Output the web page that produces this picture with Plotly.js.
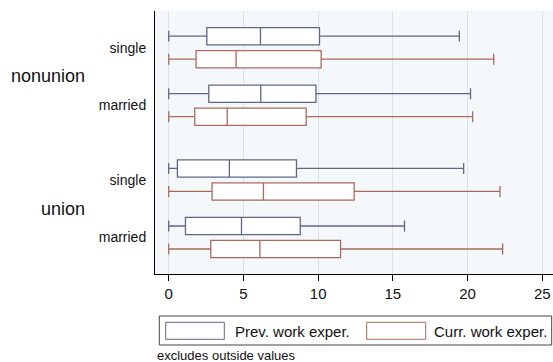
<!DOCTYPE html>
<html>
<head>
<meta charset="utf-8">
<script src="https://cdn.plot.ly/plotly-3.0.1.min.js"></script>
<style>html,body{margin:0;padding:0;background:#fff;}#chart{width:553px;height:362px;}</style>
</head>
<body>
<div id="chart"></div>
<script>
// ---- data (order: nonunion-single, nonunion-married, union-single, union-married)
const groups = ['nonunion', 'union'];
const subgroups = ['single', 'married'];
const seriesNames = ['Prev. work exper.', 'Curr. work exper.'];
const prevLower  = [0, 0, 0, 0];
const prevQ1     = [2.55, 2.68, 0.58, 1.12];
const prevMedian = [6.14, 6.16, 4.06, 4.87];
const prevQ3     = [10.09, 9.85, 8.55, 8.80];
const prevUpper  = [19.45, 20.20, 19.74, 15.78];
const currLower  = [0, 0, 0, 0];
const currQ1     = [1.83, 1.74, 2.90, 2.81];
const currMedian = [4.51, 3.91, 6.34, 6.10];
const currQ3     = [10.20, 9.20, 12.41, 11.50];
const currUpper  = [21.75, 20.34, 22.17, 22.35];
const xTickVals  = [0, 5, 10, 15, 20, 25];
const noteText   = 'excludes outside values';

// ---- layout helpers
const FONT = 'Liberation Sans, Arial, Helvetica, sans-serif';
const colors = ['#5f6784', '#a86a5d'];
const catPos = [0, 1, 2.3, 3.3];
const off = 0.2;
const catLabels = [];
groups.forEach(() => subgroups.forEach(s => catLabels.push(s)));

const W = 553, H = 362, L = 155, T = 11, B = 274;
const PW = W - L, PH = B - T;
const px = v => (v - L) / PW;
const py = v => (B - v) / PH;

function boxTrace(name, color, lo, q1, med, q3, hi, sign) {
  return {
    type: 'box', orientation: 'h', name: name,
    y: catPos.map(p => p + sign * off),
    lowerfence: lo, q1: q1, median: med, q3: q3, upperfence: hi,
    width: 0.3, whiskerwidth: 0.63, boxpoints: false,
    fillcolor: '#ffffff',
    line: {color: color, width: 1.3},
    hoverinfo: 'skip', showlegend: false
  };
}

const data = [
  boxTrace(seriesNames[0], colors[0], prevLower, prevQ1, prevMedian, prevQ3, prevUpper, -1),
  boxTrace(seriesNames[1], colors[1], currLower, currQ1, currMedian, currQ3, currUpper, +1)
];

const annotations = [];
groups.forEach((g, i) => {
  annotations.push({
    text: g, xref: 'paper', yref: 'y', x: px(87), y: (catPos[2*i] + catPos[2*i+1]) / 2,
    xanchor: 'right', yanchor: 'middle', showarrow: false,
    font: {family: FONT, size: 18, color: '#111'}
  });
});
annotations.push({text: seriesNames[0], xref: 'paper', yref: 'paper', x: px(233), y: py(331),
  xanchor: 'left', yanchor: 'middle', showarrow: false, font: {family: FONT, size: 15, color: '#111'}});
annotations.push({text: seriesNames[1], xref: 'paper', yref: 'paper', x: px(432), y: py(331),
  xanchor: 'left', yanchor: 'middle', showarrow: false, font: {family: FONT, size: 15, color: '#111'}});
annotations.push({text: noteText, xref: 'paper', yref: 'paper', x: px(155), y: py(355),
  xanchor: 'left', yanchor: 'middle', showarrow: false, font: {family: FONT, size: 13, color: '#111'}});

const shapes = [
  {type: 'rect', xref: 'paper', yref: 'paper', x0: px(159.3), x1: px(551.7), y0: py(316), y1: py(345),
   line: {color: '#444', width: 1}, fillcolor: 'rgba(0,0,0,0)'},
  {type: 'rect', xref: 'paper', yref: 'paper', x0: px(165.7), x1: px(224.3), y0: py(322.3), y1: py(339.3),
   line: {color: colors[0], width: 1}, fillcolor: '#fff'},
  {type: 'rect', xref: 'paper', yref: 'paper', x0: px(366.7), x1: px(425.7), y0: py(322.3), y1: py(339.3),
   line: {color: colors[1], width: 1}, fillcolor: '#fff'}
];

const layout = {
  width: W, height: H,
  margin: {l: L, r: 0, t: T, b: H - B, pad: 0},
  paper_bgcolor: '#ffffff', plot_bgcolor: '#f5f8fa',
  showlegend: false,
  font: {family: FONT, size: 15, color: '#111'},
  xaxis: {
    range: [-0.92, 25.72], tickvals: xTickVals, ticktext: xTickVals.map(String),
    showgrid: true, gridcolor: '#dde2ea', gridwidth: 1, zeroline: false,
    showline: true, linecolor: '#000', linewidth: 1,
    ticks: 'outside', ticklen: 6, tickcolor: '#000', tickwidth: 1,
    tickfont: {family: FONT, size: 15, color: '#111'}, fixedrange: true
  },
  yaxis: {
    range: [3.935, -0.638], tickvals: catPos, ticktext: catLabels,
    showgrid: false, zeroline: false, showline: true, linecolor: '#000', linewidth: 1,
    ticks: '', ticklabelstandoff: 5,
    tickfont: {family: FONT, size: 14, color: '#111'}, fixedrange: true
  },
  annotations: annotations,
  shapes: shapes
};

Plotly.newPlot('chart', data, layout, {staticPlot: true, displayModeBar: false});
</script>
</body>
</html>
